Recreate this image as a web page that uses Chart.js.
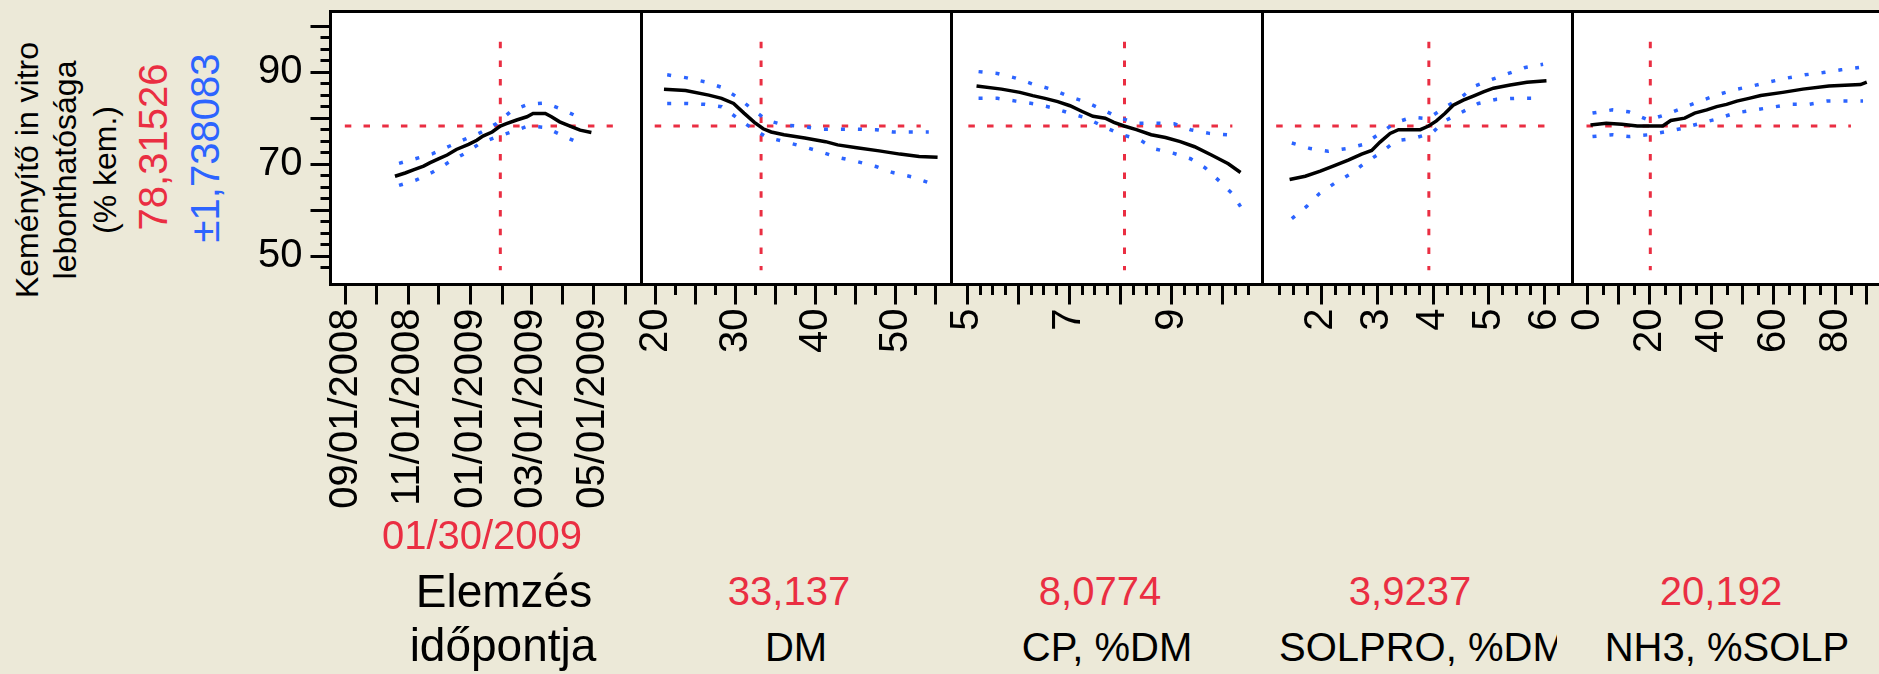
<!DOCTYPE html>
<html>
<head>
<meta charset="utf-8">
<title>Keményítő in vitro lebonthatósága - profil</title>
<script src="https://cdn.jsdelivr.net/npm/chart.js@4.4.1/dist/chart.umd.min.js"></script>
<style>
  html, body { margin: 0; padding: 0; }
  body {
    width: 1879px; height: 674px; overflow: hidden; position: relative;
    background: #ece9d8; font-family: 'Liberation Sans', Arial, sans-serif;
  }
  canvas { position: absolute; top: 0; }
  .lbl { position: absolute; white-space: nowrap; line-height: 1; transform: translate(-50%, -50%); }
  .rot { position: absolute; white-space: nowrap; line-height: 1; transform: translate(-50%, -50%) rotate(-90deg); }
</style>
</head>
<body>
<script>
// response
const respTitle = ['Keményítő in vitro', 'lebonthatósága', '(% kem.)'];
const respText = '78,31526';
const respCiText = '±1,738083';
const respValue = 78.31526;
const yRange = [43.9, 103.15];
const yTicks = [47.5, 50, 52.5, 55, 57.5, 60, 62.5, 65, 67.5, 70, 72.5, 75, 77.5, 80, 82.5, 85, 87.5, 90, 92.5, 95, 97.5, 100];
const yMajor = [50, 60, 70, 80, 90, 100];
const yLabels = [50, 70, 90];
const vLineSpan = [47.0, 96.6];

// factor names and current settings
const factorNames = [['Elemzés', 'időpontja'], ['DM'], ['CP, %DM'], ['SOLPRO, %DM'], ['NH3, %SOLP']];
const factorText = ['01/30/2009', '33,137', '8,0774', '3,9237', '20,192'];

// Elemzés időpontja
const dateRange = ['08/17/2008', '06/17/2009'];
const dateTicks = ['09/01/2008', '10/01/2008', '11/01/2008', '12/01/2008', '01/01/2009',
  '02/01/2009', '03/01/2009', '04/01/2009', '05/01/2009', '06/01/2009'];
const dateLabels = ['09/01/2008', '11/01/2008', '01/01/2009', '03/01/2009', '05/01/2009'];
const dateNow = '01/30/2009';
const dateSpan = ['08/31/2008', '05/20/2009'];
const dateX = ['10/19/2008', '10/29/2008', '11/06/2008', '11/16/2008', '11/22/2008', '12/01/2008',
  '12/09/2008', '12/18/2008', '12/30/2008', '01/07/2009', '01/13/2009', '01/22/2009', '01/30/2009',
  '02/05/2009', '02/15/2009', '02/25/2009', '03/03/2009', '03/15/2009', '03/21/2009', '03/29/2009',
  '04/10/2009', '04/18/2009', '04/29/2009'];
const dateFit = [67.4, 68.1, 68.8, 69.6, 70.3, 71.2, 72.0, 73.2, 74.3, 75.2, 76.1, 77.0, 78.3,
  78.8, 79.6, 80.3, 81.0, 81.0, 80.3, 79.2, 78.1, 77.4, 76.9];
const dateCiX = ['10/23/2008', '11/08/2008', '11/25/2008', '12/11/2008', '12/26/2008', '01/10/2009',
  '01/26/2009', '02/10/2009', '02/26/2009', '03/15/2009', '03/31/2009', '04/17/2009'];
const dateUpper = [70.2, 71.2, 72.3, 73.9, 75.4, 76.8, 78.8, 81.6, 83.0, 83.3, 81.9, 80.2];
const dateLower = [65.4, 66.5, 68.3, 70.5, 72.3, 74.5, 75.9, 77.0, 78.3, 78.0, 76.3, 74.6];

// DM
const dmRange = [18.19, 56.94];
const dmTicks = [20, 22.5, 25, 27.5, 30, 32.5, 35, 37.5, 40, 42.5, 45, 47.5, 50, 52.5, 55];
const dmMajor = [20, 25, 30, 35, 40, 45, 50, 55];
const dmLabels = [20, 30, 40, 50];
const dmNow = 33.137;
const dmSpan = [19.84, 53.1];
const dmX = [21.0, 23.7, 26.6, 28.2, 29.7, 31.0, 32.3, 33.4, 34.4, 36.0, 38.6, 41.2, 42.7, 45.1, 47.9, 50.5, 52.9, 55.2];
const dmFit = [86.3, 86.0, 85.0, 84.3, 83.2, 81.1, 79.1, 77.7, 77.0, 76.4, 75.7, 74.9, 74.2, 73.6, 72.9, 72.2, 71.7, 71.5];
const dmCiX = [21.4, 23.7, 26.1, 28.2, 30.2, 32.0, 33.9, 36.1, 38.4, 40.6, 42.7, 45.1, 47.5, 49.6, 51.9, 54.1];
const dmUpper = [89.4, 88.8, 87.9, 86.7, 84.5, 82.0, 79.5, 78.5, 78.2, 77.6, 77.6, 77.6, 77.5, 77.0, 77.0, 77.0];
const dmLower = [83.2, 83.2, 83.0, 82.5, 80.0, 77.8, 75.8, 74.9, 73.8, 72.7, 71.5, 70.6, 69.5, 68.2, 67.3, 66.0];

// CP, %DM
const cpRange = [4.69, 10.78];
const cpTicks = [5, 5.25, 5.5, 5.75, 6, 6.25, 6.5, 6.75, 7, 7.25, 7.5, 7.75, 8, 8.25, 8.5, 8.75,
  9, 9.25, 9.5, 9.75, 10, 10.25, 10.5];
const cpMajor = [5, 6, 7, 8, 9, 10];
const cpLabels = [5, 7, 9];
const cpNow = 8.0774;
const cpSpan = [5.02, 10.19];
const cpX = [5.18, 5.67, 6.03, 6.28, 6.52, 6.77, 7.01, 7.26, 7.46, 7.70, 7.87, 8.07, 8.31, 8.60, 8.88, 9.17, 9.45, 9.78, 10.11, 10.35];
const cpFit = [87.0, 86.3, 85.6, 84.9, 84.3, 83.6, 82.7, 81.4, 80.4, 80.0, 79.1, 78.3, 77.5, 76.4, 75.8, 74.9, 73.8, 72.0, 70.1, 68.2];
const cpUpX = [5.22, 5.59, 5.95, 6.28, 6.64, 6.97, 7.30, 7.62, 7.95, 8.31, 8.68, 9.05, 9.37, 9.74, 10.09];
const cpUpper = [90.1, 89.7, 88.7, 87.4, 86.3, 84.8, 83.6, 82.0, 80.2, 78.9, 78.9, 78.8, 77.5, 76.7, 76.4];
const cpLoX = [5.22, 5.59, 5.95, 6.32, 6.69, 7.00, 7.34, 7.66, 8.03, 8.36, 8.68, 9.03, 9.37, 9.66, 9.94, 10.19, 10.35];
const cpLower = [84.3, 84.3, 83.7, 83.1, 82.2, 81.1, 80.0, 78.2, 76.4, 75.4, 73.3, 72.4, 71.2, 69.2, 66.3, 63.6, 60.8];

// SOLPRO, %DM
const solRange = [0.945, 6.496];
const solTicks = [1.25, 1.5, 1.75, 2, 2.25, 2.5, 2.75, 3, 3.25, 3.5, 3.75, 4, 4.25, 4.5, 4.75,
  5, 5.25, 5.5, 5.75, 6, 6.25];
const solMajor = [2, 3, 4, 5, 6];
const solLabels = [2, 3, 4, 5, 6];
const solNow = 3.9237;
const solSpan = [1.19, 6.0];
const solX = [1.43, 1.71, 1.98, 2.21, 2.48, 2.72, 2.90, 3.05, 3.23, 3.38, 3.59, 3.77, 3.92, 4.06,
  4.21, 4.36, 4.54, 4.72, 4.90, 5.08, 5.38, 5.68, 6.03];
const solFit = [66.7, 67.4, 68.5, 69.6, 70.9, 72.2, 73.0, 74.8, 76.7, 77.5, 77.5, 77.5, 78.3, 79.4,
  81.0, 82.8, 83.9, 84.8, 85.7, 86.5, 87.2, 87.8, 88.1];
const solUpX = [1.47, 1.80, 2.12, 2.45, 2.75, 3.05, 3.32, 3.62, 3.91, 4.18, 4.48, 4.75, 5.05, 5.35, 5.65, 5.97];
const solUpper = [74.6, 73.4, 72.8, 73.4, 74.3, 76.7, 79.0, 80.2, 79.9, 82.1, 84.3, 87.0, 88.4, 89.7, 91.0, 91.7];
const solLoX = [1.47, 1.74, 1.96, 2.24, 2.54, 2.78, 3.06, 3.34, 3.65, 3.98, 4.21, 4.53, 4.81, 5.14, 5.47, 5.79];
const solLower = [58.2, 60.9, 63.6, 65.9, 68.0, 70.3, 72.5, 75.1, 75.6, 76.8, 79.4, 81.4, 83.2, 84.1, 84.3, 84.3];

// NH3, %SOLP
const nh3Range = [-4.9, 95.4];
const nh3Ticks = [0, 5, 10, 15, 20, 25, 30, 35, 40, 45, 50, 55, 60, 65, 70, 75, 80, 85, 90];
const nh3Major = [0, 10, 20, 30, 40, 50, 60, 70, 80, 90];
const nh3Labels = [0, 20, 40, 60, 80];
const nh3Now = 20.192;
const nh3Span = [-0.39, 84.9];
const nh3X = [0.9, 6.0, 11.0, 16.0, 24.2, 26.8, 31.3, 34.5, 38.4, 41.6, 44.8, 48.1, 52.0, 55.8, 62.9, 69.4, 77.8, 88.0, 90.0];
const nh3Fit = [78.5, 78.9, 78.7, 78.3, 78.3, 79.5, 80.0, 81.1, 81.8, 82.5, 83.0, 83.7, 84.3, 84.9, 85.6, 86.3, 87.0, 87.3, 87.8];
const nh3UpX = [1.55, 8.0, 13.2, 19.6, 24.8, 30.6, 35.8, 41.6, 46.8, 53.2, 58.8, 64.2, 70.0, 75.9, 81.7, 87.5];
const nh3Upper = [81.1, 81.8, 81.4, 79.6, 80.7, 82.2, 83.6, 85.0, 86.1, 87.0, 87.9, 88.7, 89.4, 89.9, 90.5, 91.0];
const nh3LoX = [1.55, 8.0, 13.2, 19.6, 24.8, 30.6, 36.4, 41.6, 47.4, 53.9, 59.7, 65.5, 71.3, 77.2, 83.0, 88.8];
const nh3Lower = [76.0, 76.4, 76.0, 76.4, 77.0, 77.8, 78.9, 79.8, 81.1, 81.8, 82.4, 83.0, 83.0, 83.7, 83.7, 83.7];

const red = 'rgb(234, 46, 66)';
const blue = 'rgb(44, 100, 255)';

function toDay(s) {
  const [m, d, y] = s.split('/').map(Number);
  return Date.UTC(y, m - 1, d) / 86400000;
}
function fromDay(v) {
  const dt = new Date(v * 86400000);
  const p2 = n => String(n).padStart(2, '0');
  return p2(dt.getUTCMonth() + 1) + '/' + p2(dt.getUTCDate()) + '/' + dt.getUTCFullYear();
}
function pts(xs, ys) {
  return xs.map((x, i) => ({ x: x, y: ys[i] }));
}

const panels = [
  { fitX: dateX.map(toDay), fit: dateFit, upX: dateCiX.map(toDay), up: dateUpper, loX: dateCiX.map(toDay), lo: dateLower,
    range: dateRange.map(toDay), ticks: dateTicks.map(toDay), major: dateTicks.map(toDay),
    labels: dateLabels.map(toDay), now: toDay(dateNow), span: dateSpan.map(toDay), fmt: fromDay },
  { fitX: dmX, fit: dmFit, upX: dmCiX, up: dmUpper, loX: dmCiX, lo: dmLower,
    range: dmRange, ticks: dmTicks, major: dmMajor, labels: dmLabels, now: dmNow, span: dmSpan, fmt: String },
  { fitX: cpX, fit: cpFit, upX: cpUpX, up: cpUpper, loX: cpLoX, lo: cpLower,
    range: cpRange, ticks: cpTicks, major: cpMajor, labels: cpLabels, now: cpNow, span: cpSpan, fmt: String },
  { fitX: solX, fit: solFit, upX: solUpX, up: solUpper, loX: solLoX, lo: solLower,
    range: solRange, ticks: solTicks, major: solMajor, labels: solLabels, now: solNow, span: solSpan, fmt: String },
  { fitX: nh3X, fit: nh3Fit, upX: nh3UpX, up: nh3Upper, loX: nh3LoX, lo: nh3Lower,
    range: nh3Range, ticks: nh3Ticks, major: nh3Major, labels: nh3Labels, now: nh3Now, span: nh3Span, fmt: String }
];

// panel frame edges on the page
const edges = [330.5, 641.5, 951.5, 1262.5, 1572.5, 1883.5];
const plotTop = 11.5, plotBottom = 284.5, canvasH = 520;

Chart.defaults.font.family = "'Liberation Sans', Arial, sans-serif";
Chart.defaults.color = '#000';

const frame = {
  id: 'frame',
  beforeDraw(chart) {
    const { ctx, chartArea: a } = chart;
    ctx.save();
    ctx.fillStyle = '#fff';
    ctx.fillRect(a.left, a.top, a.right - a.left, a.bottom - a.top);
    ctx.restore();
  },
  afterDraw(chart) {
    const { ctx, chartArea: a } = chart;
    ctx.save();
    ctx.strokeStyle = '#000';
    ctx.lineWidth = 3;
    ctx.strokeRect(a.left, a.top, a.right - a.left, a.bottom - a.top);
    ctx.restore();
  }
};

panels.forEach((p, i) => {
  const first = i === 0;
  const left = first ? 240 : Math.floor(edges[i]) - 40;
  const right = Math.ceil(edges[i + 1]) + 40;
  const cv = document.createElement('canvas');
  cv.width = right - left;
  cv.height = canvasH;
  cv.style.left = left + 'px';
  document.body.appendChild(cv);

  new Chart(cv, {
    type: 'line',
    data: {
      datasets: [
        { data: pts(p.fitX, p.fit), borderColor: '#000', borderWidth: 3.5 },
        { data: pts(p.upX, p.up), borderColor: blue, borderWidth: 3.5, borderDash: [4, 13] },
        { data: pts(p.loX, p.lo), borderColor: blue, borderWidth: 3.5, borderDash: [4, 13] },
        { data: [{ x: p.span[0], y: respValue }, { x: p.span[1], y: respValue }],
          borderColor: red, borderWidth: 3, borderDash: [6.5, 12.2] },
        { data: [{ x: p.now, y: vLineSpan[1] }, { x: p.now, y: vLineSpan[0] }],
          borderColor: red, borderWidth: 3, borderDash: [6.5, 12.2] }
      ]
    },
    options: {
      responsive: false,
      animation: false,
      events: [],
      layout: {
        padding: {
          left: first ? 0 : edges[i] - left,
          right: right - edges[i + 1],
          top: plotTop,
          bottom: 0
        }
      },
      elements: {
        point: { radius: 0 },
        line: { tension: 0, fill: false, borderCapStyle: 'butt' }
      },
      plugins: { legend: { display: false }, tooltip: { enabled: false } },
      scales: {
        x: {
          type: 'linear',
          min: p.range[0], max: p.range[1], bounds: 'data',
          afterBuildTicks: s => { s.ticks = p.ticks.map(v => ({ value: v })); },
          afterFit: s => { s.height = canvasH - plotBottom; s.paddingLeft = 0; s.paddingRight = 0; },
          border: { display: false },
          grid: {
            drawOnChartArea: false, tickLength: 20, tickWidth: 3, tickColor: '#000',
            tickBorderDash: c => (c.tick && !p.major.includes(c.tick.value)) ? [10, 40] : []
          },
          ticks: {
            autoSkip: false, minRotation: 90, maxRotation: 90, padding: 4,
            color: '#000', font: { size: 40 },
            callback: v => p.labels.includes(v) ? p.fmt(v) : ''
          }
        },
        y: {
          type: 'linear',
          display: first,
          min: yRange[0], max: yRange[1], bounds: 'data',
          afterBuildTicks: s => { s.ticks = yTicks.map(v => ({ value: v })); },
          afterFit: first ? s => { s.width = edges[0] - left; s.paddingTop = 0; s.paddingBottom = 0; } : undefined,
          border: { display: false },
          grid: {
            drawOnChartArea: false, tickLength: 20, tickWidth: 3, tickColor: '#000',
            tickBorderDash: c => (c.tick && !yMajor.includes(c.tick.value)) ? [0, 10, 10, 0] : []
          },
          ticks: {
            autoSkip: false, padding: 8, color: '#000', font: { size: 40 },
            callback: v => yLabels.includes(v) ? String(v) : ''
          }
        }
      }
    },
    plugins: [frame]
  });
});

// texts around the panels
function addText(text, x, y, size, color, cls) {
  const d = document.createElement('div');
  d.className = cls || 'lbl';
  d.textContent = text;
  d.style.left = x + 'px';
  d.style.top = y + 'px';
  d.style.fontSize = size + 'px';
  d.style.color = color || '#000';
  document.body.appendChild(d);
  return d;
}

[26.5, 64.5, 104.5].forEach((x, k) => addText(respTitle[k], x, 170, 32, '#000', 'rot'));
addText(respText, 152.5, 147, 40, red, 'rot');
addText(respCiText, 204.5, 147.5, 40, blue, 'rot');

addText(factorText[0], 482, 535, 40, red);
addText(factorNames[0][0], 504, 591, 46);
addText(factorNames[0][1], 503, 645, 46);

const valueX = [null, 789, 1100, 1410, 1721];
const nameX = [null, 796, 1107, null, 1727];
for (let k = 1; k < 5; k++) {
  addText(factorText[k], valueX[k], 591, 40, red);
  if (nameX[k] !== null) addText(factorNames[k][0], nameX[k], 647, 40);
}
// the SOLPRO name is wider than its panel and gets clipped
const sol = addText(factorNames[3][0], 1279, 647, 40);
sol.style.transform = 'translateY(-50%)';
sol.style.width = '278px';
sol.style.overflow = 'hidden';
</script>
</body>
</html>
